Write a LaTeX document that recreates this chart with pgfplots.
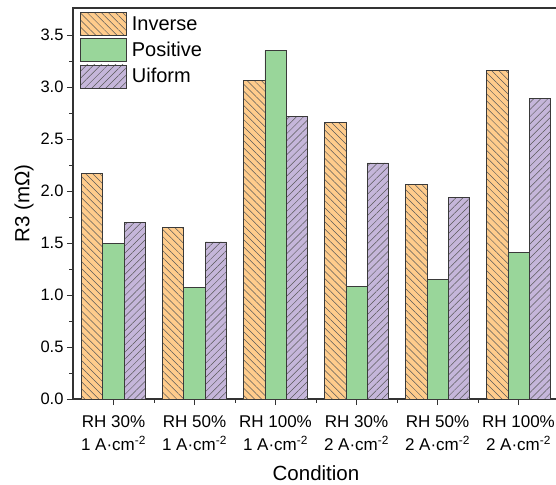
\documentclass[border=0pt]{standalone}
\usepackage{pgfplots}
\pgfplotsset{compat=1.18}
\usepackage{fontspec}
\setmainfont{Liberation Sans}
\usetikzlibrary{patterns.meta}
\definecolor{cinv}{HTML}{FFCC8C}
\definecolor{cpos}{HTML}{99D69A}
\definecolor{cuni}{HTML}{C5B6DA}
\definecolor{cedge}{HTML}{3A3A3A}
\begin{document}
\begin{tikzpicture}[x=1pt,y=1pt]
\begin{axis}[
  scale only axis, width=486pt, height=391pt,
  at={(0,0)}, anchor=south west,
  xmin=-0.5, xmax=5.5, ymin=0, ymax=3.76,
  ybar=0pt, bar width=0.263,
  every axis plot post/.append style={
    legend image code/.code={\draw[##1] (0pt,-11.5pt) rectangle (46pt,11.5pt);}},
  axis line style={line width=1.2pt, black!80},
  xtick={0,...,5},
  xticklabels={RH 30\%\\1 A·cm\textsuperscript{-2},RH 50\%\\1 A·cm\textsuperscript{-2},RH 100\%\\1 A·cm\textsuperscript{-2},RH 30\%\\2 A·cm\textsuperscript{-2},RH 50\%\\2 A·cm\textsuperscript{-2},RH 100\%\\2 A·cm\textsuperscript{-2}},
  xticklabel style={align=center, font=\fontsize{17}{23}\selectfont, yshift=-7pt},
  minor xtick={0.5,1.5,2.5,3.5,4.5},
  ytick={0,0.5,...,3.5},
  minor ytick={0.25,0.75,...,3.25},
  yticklabel style={font=\fontsize{16.5}{19}\selectfont, /pgf/number format/fixed, /pgf/number format/fixed zerofill, /pgf/number format/precision=1},
  /pgf/number format/assume math mode=true,
  xtick pos=bottom, ytick pos=left,
  tick align=outside,
  major tick length=6pt, minor tick length=3.5pt,
  every tick/.style={line width=1pt, black!80},
  ylabel={R3 (mΩ)}, xlabel={Condition},
  label style={font=\fontsize{20.5}{24}\selectfont},
  ylabel style={yshift=0pt},
  xlabel style={yshift=-8pt},
  legend style={at={(0,1)}, anchor=north west, xshift=4pt, yshift=-2pt, draw=none, fill=none,
    font=\fontsize{20}{22}\selectfont, row sep=2.5pt, legend cell align=left,
    nodes={inner ysep=0pt},
    /tikz/every odd column/.append style={column sep=3pt}},
]
\addplot[fill=cinv, draw=cedge, line width=0.7pt,
  postaction={pattern={Lines[angle=-45,distance=5pt,line width=0.5pt]}, pattern color=black!65}]
  coordinates {(0,2.17) (1,1.65) (2,3.06) (3,2.66) (4,2.06) (5,3.16)};
\addlegendentry{Inverse}
\addplot[fill=cpos, draw=cedge, line width=0.7pt]
  coordinates {(0,1.50) (1,1.07) (2,3.35) (3,1.08) (4,1.15) (5,1.41)};
\addlegendentry{Positive}
\addplot[fill=cuni, draw=cedge, line width=0.7pt,
  postaction={pattern={Lines[angle=45,distance=5pt,line width=0.5pt]}, pattern color=black!65}]
  coordinates {(0,1.70) (1,1.51) (2,2.72) (3,2.27) (4,1.94) (5,2.89)};
\addlegendentry{Uiform}
\end{axis}
\pgfresetboundingbox
\path[use as bounding box] (-73,-85) rectangle (483,399);
\end{tikzpicture}
\end{document}
